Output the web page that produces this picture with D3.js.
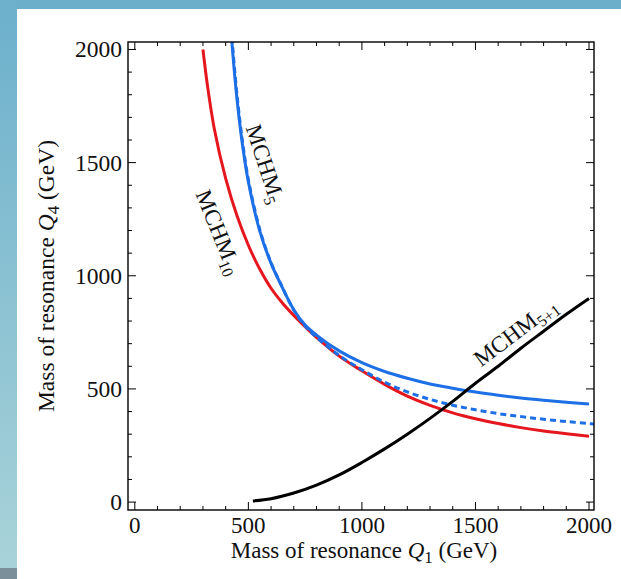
<!DOCTYPE html>
<html lang="en">
<head>
<meta charset="UTF-8">
<title>Resonance masses</title>
<script src="https://d3js.org/d3.v7.min.js"></script>
<style>
  html, body { margin: 0; padding: 0; background: #fff; }
  svg { display: block; }
  text { font-family: "Liberation Serif", "DejaVu Serif", serif; fill: #111; }
</style>
</head>
<body>
<svg id="canvas" width="621" height="579"></svg>
<script>
// curves: [mass Q1, mass Q4] in GeV
const mchm10 = [[300,2000],[320,1840],[350,1650],[400,1430],[450,1265],[500,1135],[550,1030],[600,945],[650,880],[700,825],[750,775],[800,728],[900,645],[1000,580],[1100,520],[1200,468],[1300,427],[1400,394],[1500,368],[1600,347],[1700,329],[1800,314],[1900,302],[2000,291]];
const mchm5 = [[423,2098],[430,2000],[450,1780],[476,1565],[500,1415],[551,1195],[600,1055],[639,970],[700,850],[750,782],[800,738],[900,668],[1000,616],[1100,577],[1200,547],[1300,522],[1400,503],[1500,486],[1600,472],[1700,460],[1800,450],[1900,441],[2000,433]];
const mchm5Dashed = [[425,2098],[432,2000],[452,1780],[478,1565],[502,1415],[553,1195],[601,1055],[640,970],[700,848],[750,778],[800,728],[900,648],[1000,585],[1100,530],[1200,487],[1300,454],[1400,428],[1500,408],[1600,391],[1700,378],[1800,366],[1900,356],[2000,347],[2030,344]];
const mchm51 = [[520,5],[600,15],[700,40],[800,75],[900,120],[1000,175],[1100,235],[1200,300],[1300,370],[1400,445],[1500,525],[1600,600],[1700,680],[1800,755],[1900,830],[2000,900]];

const majorTicks = [0, 500, 1000, 1500, 2000];
const minorTicks = d3.range(0, 2001, 100).filter(v => v % 500 !== 0);

const svg = d3.select("#canvas");

// slide background
const defs = svg.append("defs");
const grad = defs.append("linearGradient").attr("id", "side").attr("x1", 0).attr("y1", 0).attr("x2", 0).attr("y2", 1);
grad.append("stop").attr("offset", "0%").attr("stop-color", "#6cb0cc");
grad.append("stop").attr("offset", "100%").attr("stop-color", "#a9d3d9");
svg.append("rect").attr("x", 0).attr("y", 0).attr("width", 621).attr("height", 9).attr("fill", "#6cafcb");
svg.append("rect").attr("x", 0).attr("y", 0).attr("width", 17).attr("height", 579).attr("fill", "url(#side)");
svg.append("rect").attr("x", 0).attr("y", 568).attr("width", 17).attr("height", 11).attr("fill", "#7b8f9b");

const x = d3.scaleLinear().domain([-30, 2022]).range([128, 594]);
const y = d3.scaleLinear().domain([-35, 2033]).range([510, 42]);

defs.append("clipPath").attr("id", "frame").append("rect")
  .attr("x", 128).attr("y", 42).attr("width", 466).attr("height", 468);

const line = d3.line().x(d => x(d[0])).y(d => y(d[1])).curve(d3.curveCatmullRom);

const curves = svg.append("g").attr("clip-path", "url(#frame)")
  .attr("fill", "none").attr("stroke-width", 3);
curves.append("path").attr("d", line(mchm10)).attr("stroke", "#e5161e");
curves.append("path").attr("d", line(mchm5)).attr("stroke", "#1d6fe6");
curves.append("path").attr("d", line(mchm5Dashed)).attr("stroke", "#1d6fe6").attr("stroke-dasharray", "6,4");
curves.append("path").attr("d", line(mchm51)).attr("stroke", "#000");

// frame with inward ticks on all four sides
const axes = svg.append("g");
axes.append("rect").attr("x", 128).attr("y", 42).attr("width", 466).attr("height", 468)
  .attr("fill", "none").attr("stroke", "#000").attr("stroke-width", 1.4);

const tickSets = [[majorTicks, 8], [minorTicks, 4]];
tickSets.forEach(([vals, len]) => {
  axes.selectAll(null).data(vals).join("line")
    .attr("x1", d => x(d)).attr("x2", d => x(d)).attr("y1", 510).attr("y2", 510 - len)
    .attr("stroke", "#000").attr("stroke-width", 1);
  axes.selectAll(null).data(vals).join("line")
    .attr("x1", d => x(d)).attr("x2", d => x(d)).attr("y1", 42).attr("y2", 42 + len)
    .attr("stroke", "#000").attr("stroke-width", 1);
  axes.selectAll(null).data(vals).join("line")
    .attr("y1", d => y(d)).attr("y2", d => y(d)).attr("x1", 128).attr("x2", 128 + len)
    .attr("stroke", "#000").attr("stroke-width", 1);
  axes.selectAll(null).data(vals).join("line")
    .attr("y1", d => y(d)).attr("y2", d => y(d)).attr("x1", 594).attr("x2", 594 - len)
    .attr("stroke", "#000").attr("stroke-width", 1);
});

axes.selectAll(null).data(majorTicks).join("text")
  .attr("x", d => x(d)).attr("y", 533).attr("text-anchor", "middle")
  .attr("font-size", 23).text(d => d);
axes.selectAll(null).data(majorTicks).join("text")
  .attr("x", 122).attr("y", d => y(d) + 8).attr("text-anchor", "end")
  .attr("font-size", 23.5).text(d => d);

// axis titles
const xt = svg.append("text").attr("x", 364).attr("y", 558).attr("text-anchor", "middle").attr("font-size", 23);
xt.append("tspan").text("Mass of resonance ");
xt.append("tspan").attr("font-style", "italic").text("Q");
xt.append("tspan").attr("font-size", 17).attr("dy", 5).text("1");
xt.append("tspan").attr("dy", -5).text(" (GeV)");

const yt = svg.append("text").attr("transform", "translate(54,276) rotate(-90)").attr("text-anchor", "middle").attr("font-size", 23.5);
yt.append("tspan").text("Mass of resonance ");
yt.append("tspan").attr("font-style", "italic").text("Q");
yt.append("tspan").attr("font-size", 17).attr("dy", 5).text("4");
yt.append("tspan").attr("dy", -5).text(" (GeV)");

// curve labels
function label(cx, cy, angle, main, sub) {
  const t = svg.append("text").attr("transform", `translate(${cx},${cy}) rotate(${angle})`)
    .attr("text-anchor", "middle").attr("font-size", 23);
  t.append("tspan").text(main);
  t.append("tspan").attr("font-size", 16).attr("dy", 5).text(sub);
}
label(258, 166, 72, "MCHM", "5");
label(212, 235, 68, "MCHM", "10");
label(520, 338, -37, "MCHM", "5+1");
</script>
</body>
</html>
